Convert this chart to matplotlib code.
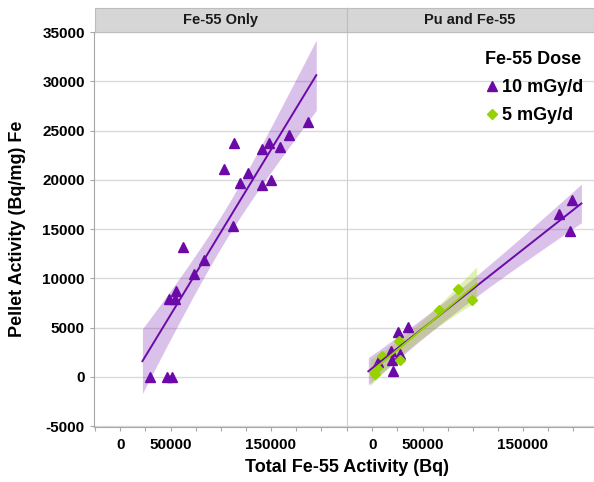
import matplotlib
matplotlib.use("Agg")
import matplotlib.pyplot as plt
import numpy as np

# Fe-55 only cohort (all 10 mGy/d)
fe_only_x = [29900, 46200, 51500, 48500, 54500, 55500, 62500, 73400, 83700, 103600, 113200,
             112500, 119200, 127500, 140800, 141400, 148100, 150100, 159100, 168000, 187300]
fe_only_y = [0, 0, 0, 7950, 7950, 8760, 13150, 10480, 11900, 21130, 23800,
             15350, 19740, 20700, 19440, 23130, 23740, 19990, 23330, 24580, 25900]

# Pu + Fe-55 cohort, split by Fe-55 dose
pu_10_x = [25300, 35300, 18300, 27100, 19300, 20300, 5700, 186300, 198600, 196900]
pu_10_y = [4570, 5040, 2610, 2370, 1760, 580, 1560, 16540, 17990, 14770]
pu_5_x = [26900, 27600, 9700, 5000, 2700, 66700, 85100, 99000]
pu_5_y = [3620, 1760, 2170, 920, 340, 6830, 8960, 7780]

panel_titles = ["Fe-55 Only", "Pu and Fe-55"]
dose_labels = ["10 mGy/d", "5 mGy/d"]
x_ticks = [-25000, 0, 25000, 50000, 75000, 100000, 125000, 150000, 175000, 200000]
x_tick_labels = ["", "0", "", "50000", "", "", "", "150000", "", ""]
y_ticks = [-5000, 0, 5000, 10000, 15000, 20000, 25000, 30000, 35000]

PURPLE = "#6b0aa8"
GREEN = "#96d200"
GRID = "#dadada"
AXIS = "#a6a6a6"
W, H = 594, 482

plt.rcParams["font.family"] = ["Liberation Sans", "DejaVu Sans"]
plt.rcParams["axes.unicode_minus"] = False


def t95(df):
    # two-sided 95% Student t quantile, Cornish-Fisher expansion
    z = 1.959964
    g1 = (z**3 + z) / 4
    g2 = (5 * z**5 + 16 * z**3 + 3 * z) / 96
    g3 = (3 * z**7 + 19 * z**5 + 17 * z**3 - 15 * z) / 384
    return z + g1 / df + g2 / df**2 + g3 / df**3


def fit_band(x, y, pad=0.05, n=100):
    x = np.asarray(x, float); y = np.asarray(y, float)
    slope, icpt = np.polyfit(x, y, 1)
    df = len(x) - 2
    s = np.sqrt(np.sum((y - (slope * x + icpt)) ** 2) / df)
    xbar = x.mean(); sxx = np.sum((x - xbar) ** 2)
    span = x.max() - x.min()
    xs = np.linspace(x.min() - pad * span, x.max() + pad * span, n)
    yhat = slope * xs + icpt
    se = s * np.sqrt(1 / len(x) + (xs - xbar) ** 2 / sxx)
    half = t95(df) * se
    return xs, yhat, yhat - half, yhat + half


def draw_group(ax, x, y, color, marker, ms, band_alpha):
    xs, yhat, lo, hi = fit_band(x, y)
    ax.fill_between(xs, lo, hi, color=color, alpha=band_alpha, lw=0, zorder=1)
    pts, = ax.plot(x, y, ls="none", marker=marker, ms=ms, color=color, mec=color, zorder=3)
    ax.plot(xs, yhat, color=color, lw=1.4, zorder=4)
    return pts


def style_axes(ax, xlim):
    ax.set_xlim(*xlim)
    ax.set_ylim(-5050, 35050)
    ax.set_yticks(y_ticks)
    ax.set_xticks(x_ticks, x_tick_labels)
    ax.grid(axis="y", color=GRID, lw=1)
    ax.set_axisbelow(True)
    for side in ("top", "right"):
        ax.spines[side].set_visible(False)
    ax.spines["bottom"].set_color(AXIS)
    ax.tick_params(axis="x", length=3, width=0.8, color=AXIS, pad=5, labelsize=11)
    ax.tick_params(axis="y", length=3, width=0.8, color=AXIS, pad=3.5, labelsize=11)
    plt.setp(ax.get_xticklabels() + ax.get_yticklabels(), fontweight="bold")


def header(fig, x0, x1, title, top):
    hax = fig.add_axes([x0 / W, top, (x1 - x0) / W, 23.4 / H])
    hax.set_facecolor("#d6d6d6")
    hax.set_xticks([]); hax.set_yticks([])
    for sp in hax.spines.values():
        sp.set_color("#bdbdbd")
    hax.text(0.5, 0.5, title, ha="center", va="center", fontsize=10.5,
             fontweight="bold", color="#1a1a1a", transform=hax.transAxes)


def main():
    fig = plt.figure(figsize=(W / 100, H / 100), dpi=100)
    bottom = 1 - 426.7 / H
    top = 1 - 31.7 / H
    ax1 = fig.add_axes([94 / W, bottom, (346.7 - 94) / W, top - bottom])
    ax2 = fig.add_axes([346.7 / W, bottom, (593.5 - 346.7) / W, top - bottom])

    draw_group(ax1, fe_only_x, fe_only_y, PURPLE, "^", 7.5, 0.25)
    h10 = draw_group(ax2, pu_10_x, pu_10_y, PURPLE, "^", 7.5, 0.25)
    h5 = draw_group(ax2, pu_5_x, pu_5_y, GREEN, "D", 5.2, 0.3)

    style_axes(ax1, (-26200, 225500))
    style_axes(ax2, (-25500, 220300))
    ax1.spines["left"].set_color(AXIS)
    ax2.spines["left"].set_color("#d0d0d0")
    ax2.tick_params(axis="y", left=False, labelleft=False)

    header(fig, 95, 346.7, panel_titles[0], top)
    header(fig, 346.7, 593.5, panel_titles[1], top)

    fig.text(347 / W, 1 - 468 / H, "Total Fe-55 Activity (Bq)", ha="center", va="center",
             fontsize=13, fontweight="bold")
    fig.text(18 / W, 1 - 229 / H, "Pellet Activity (Bq/mg) Fe", ha="center", va="center",
             rotation=90, fontsize=13, fontweight="bold")

    leg = ax2.legend([h10, h5], dose_labels, title="Fe-55 Dose", loc="upper left",
                     bbox_to_anchor=(485 / W, 1 - 51 / H), bbox_transform=fig.transFigure,
                     frameon=False, prop={"size": 13, "weight": "bold"},
                     title_fontproperties={"size": 13, "weight": "bold"},
                     handlelength=0.8, handletextpad=0.15, labelspacing=0.62,
                     borderpad=0, borderaxespad=0, alignment="left")

    fig.savefig("out.png", dpi=100)


if __name__ == "__main__":
    main()
